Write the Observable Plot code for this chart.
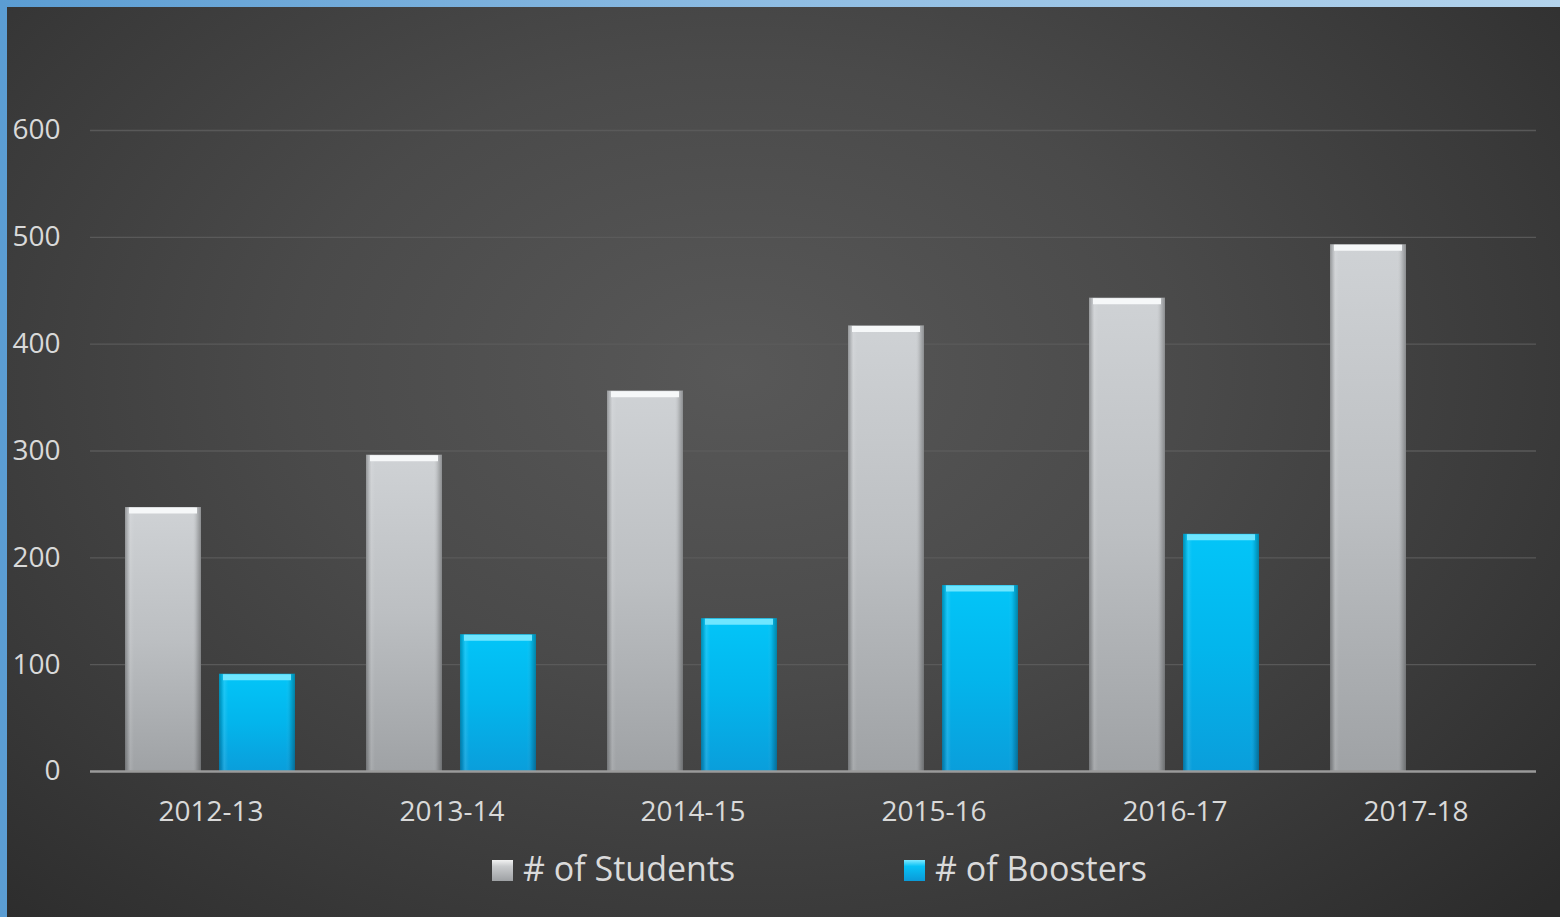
<!DOCTYPE html>
<html>
<head>
<meta charset="utf-8">
<script src="https://cdn.jsdelivr.net/npm/d3@7"></script>
<script src="https://cdn.jsdelivr.net/npm/@observablehq/plot@0.6"></script>
<style>
  html, body { margin: 0; padding: 0; }
  body { width: 1560px; height: 917px; overflow: hidden; }
  #frame {
    position: relative; width: 1560px; height: 917px;
    background: linear-gradient(90deg, #5b9dd3 0%, #8fbde3 50%, #b3d3ec 100%);
  }
  #inner {
    position: absolute; left: 7px; top: 7px; right: 0; bottom: 0;
    background: radial-gradient(ellipse 72% 85% at 47% 40%, #585858 0%, #4a4a4a 40%, #3a3a3a 72%, #2b2b2b 100%);
  }
  #chart { position: absolute; left: 0; top: 0; width: 1560px; height: 917px; }
  #chart svg { display: block; }
  #legend { position: relative; width: 1560px; height: 77px; font-family: "Open Sans", sans-serif; color: #dadada; }
  .item { position: absolute; top: 0; height: 77px; }
  .sw { position: absolute; top: 20px; left: 0; width: 21px; height: 21px; }
  .lt { position: absolute; top: 11px; left: 31px; font-size: 34px; line-height: 34px; white-space: nowrap; }
</style>
</head>
<body>
<div id="frame"><div id="inner"></div><div id="chart"></div></div>
<script>
const years = ["2012-13", "2013-14", "2014-15", "2015-16", "2016-17", "2017-18"];
const students = [247, 296, 356, 417, 443, 493];
const boosters = [91, 128, 143, 174, 222, null];
const seriesNames = ["# of Students", "# of Boosters"];
const yTicks = [0, 100, 200, 300, 400, 500, 600];

const data = [];
years.forEach((yr, i) => {
  data.push({year: yr, series: seriesNames[0], value: students[i]});
  if (boosters[i] != null) data.push({year: yr, series: seriesNames[1], value: boosters[i]});
});

const plot = Plot.plot({
  width: 1560,
  height: 840,
  marginLeft: 89,
  marginRight: 23,
  marginTop: 130,
  marginBottom: 69,
  style: {background: "transparent", color: "#d9d9d9", fontFamily: "'Open Sans', sans-serif", fontSize: "28px", overflow: "visible"},
  fx: {domain: years, padding: 0, label: null, axis: "bottom", tickSize: 0, tickPadding: 30},
  x: {domain: seriesNames, paddingInner: 0.19, paddingOuter: 0.375, axis: null},
  y: {domain: [0, 600], ticks: yTicks, label: null, tickSize: 0, tickPadding: 30},
  color: {domain: seriesNames, range: ["url(#gS)", "url(#gB)"]},
  marks: [
    Plot.ruleY(yTicks.filter(d => d > 0), {stroke: "#5c5c5c", strokeWidth: 1.3, strokeOpacity: 0.9}),
    Plot.barY(data, {fx: "year", x: "series", y: "value", fill: "series"}),
    Plot.barY(data, {fx: "year", x: "series", y: "value", fill: "url(#gEdge)"}),
    Plot.tickY(data, {fx: "year", x: "series", y: "value", dy: 3, strokeWidth: 6, insetLeft: 4, insetRight: 4,
      stroke: d => d.series === seriesNames[0] ? "url(#gHS)" : "url(#gHB)"}),
    Plot.ruleY([0], {stroke: "#9a9a9a", strokeWidth: 2.5})
  ]
});

const ns = "http://www.w3.org/2000/svg";
const defs = document.createElementNS(ns, "defs");
defs.innerHTML = `
  <linearGradient id="gS" x1="0" y1="0" x2="0" y2="1">
    <stop offset="0" stop-color="#cfd2d5"/>
    <stop offset="0.5" stop-color="#bcbfc2"/>
    <stop offset="1" stop-color="#9fa2a5"/>
  </linearGradient>
  <linearGradient id="gB" x1="0" y1="0" x2="0" y2="1">
    <stop offset="0" stop-color="#03c5f8"/>
    <stop offset="0.5" stop-color="#03b5ec"/>
    <stop offset="1" stop-color="#0a9edb"/>
  </linearGradient>
  <linearGradient id="gHS" gradientUnits="userSpaceOnUse" x1="0" y1="0" x2="0" y2="0">
    <stop offset="0" stop-color="#f6f8f9"/>
  </linearGradient>
  <linearGradient id="gHB" gradientUnits="userSpaceOnUse" x1="0" y1="0" x2="0" y2="0">
    <stop offset="0" stop-color="#6fe6ff"/>
  </linearGradient>
  <linearGradient id="gEdge" x1="0" y1="0" x2="1" y2="0">
    <stop offset="0" stop-color="#000" stop-opacity="0.28"/>
    <stop offset="0.035" stop-color="#000" stop-opacity="0.12"/>
    <stop offset="0.07" stop-color="#fff" stop-opacity="0.10"/>
    <stop offset="0.12" stop-color="#fff" stop-opacity="0.0"/>
    <stop offset="0.88" stop-color="#fff" stop-opacity="0.0"/>
    <stop offset="0.94" stop-color="#000" stop-opacity="0.10"/>
    <stop offset="1" stop-color="#000" stop-opacity="0.32"/>
  </linearGradient>`;
plot.insertBefore(defs, plot.firstChild);

const chart = document.getElementById("chart");
chart.appendChild(plot);

const legend = document.createElement("div");
legend.id = "legend";
const swatchBg = [
  "linear-gradient(180deg, #f2f2f2 0%, #c9cbcd 30%, #9ea1a4 100%)",
  "linear-gradient(180deg, #7fe9ff 0%, #08c2f6 30%, #0a9ad8 100%)"
];
const lefts = [492, 904];
seriesNames.forEach((name, i) => {
  const item = document.createElement("div");
  item.className = "item";
  item.style.left = lefts[i] + "px";
  const sw = document.createElement("div");
  sw.className = "sw";
  sw.style.background = swatchBg[i];
  const lt = document.createElement("div");
  lt.className = "lt";
  lt.textContent = name;
  item.appendChild(sw);
  item.appendChild(lt);
  legend.appendChild(item);
});
chart.appendChild(legend);
</script>
</body>
</html>
